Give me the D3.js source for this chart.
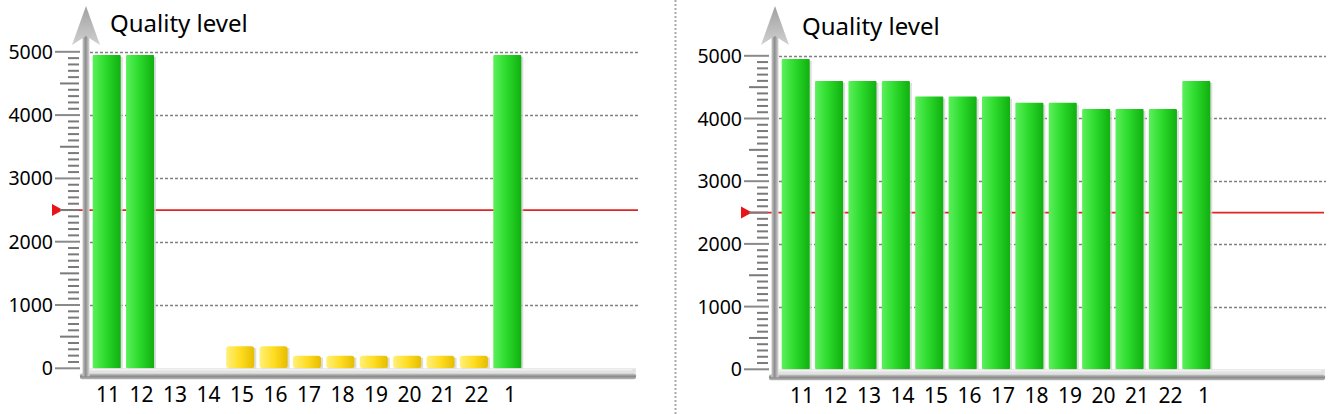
<!DOCTYPE html>
<html>
<head>
<meta charset="utf-8">
<script src="https://cdn.jsdelivr.net/npm/d3@7"></script>
<style>
    html, body { margin:0; padding:0; background:#fff; }
    svg { display:block; font-family:"Noto Sans", "Open Sans", sans-serif; }
</style>
</head>
<body>
<script>

    /*
        Chart data.
     */

    var categories = ["11","12","13","14","15","16","17","18","19","20","21","22","1"];
    var leftValues = [4950, 4950, 0, 0, 350, 350, 200, 200, 200, 200, 200, 200, 4950];
    var rightValues = [4950, 4600, 4600, 4600, 4350, 4350, 4350, 4250, 4250, 4150, 4150, 4150, 4600];
    var yTicks = [0, 1000, 2000, 3000, 4000, 5000];
    var threshold = 2500;
    var titleText = "Quality level";

    var width = 1332;
    var height = 414;

    var svg = d3.select("body")
        .append("svg")
        .attr("width", width)
        .attr("height", height);

    var defs = svg.append("defs");

    function gradient(id, stops, vertical) {
        var g = defs.append("linearGradient")
            .attr("id", id)
            .attr("x1", 0).attr("y1", 0)
            .attr("x2", vertical ? 0 : 1).attr("y2", vertical ? 1 : 0);
        stops.forEach(function (s) {
            g.append("stop").attr("offset", s[0]).attr("stop-color", s[1]);
        });
    }

    gradient("greenBar", [["0%","#5cf05c"],["45%","#2ddb2d"],["100%","#10b010"]], false);
    gradient("yellowBar", [["0%","#fff07a"],["50%","#ffdd22"],["100%","#e6bd00"]], false);
    gradient("shaft", [["0%","#c8c8c8"],["45%","#8c8c8c"],["100%","#d6d6d6"]], false);
    gradient("floorBar", [["0%","#cfcfcf"],["50%","#8a8a8a"],["100%","#b8b8b8"]], true);
    gradient("arrowHead", [["0%","#a0a0a0"],["100%","#d0d0d0"]], true);

    // separator between the two panels
    svg.append("line")
        .attr("x1", 675.5).attr("x2", 675.5)
        .attr("y1", 0).attr("y2", height)
        .attr("stroke", "#aaa")
        .attr("stroke-width", 2)
        .attr("stroke-dasharray", "2,2");

    var panels = [
        {values: leftValues, axisX: 86, yRange: [368.3, 51.8], xRange: [90, 524], labelRange: [108, 510], gridEnd: 640, floorEnd: 636, titleX: 110, titleY: 32},
        {values: rightValues, axisX: 775, yRange: [369.3, 55.8], xRange: [779, 1213], labelRange: [802, 1204], gridEnd: 1326, floorEnd: 1325, titleX: 802, titleY: 35}
    ];

    panels.forEach(function (p) {
        drawPanel(p);
    });

    function drawPanel(p) {

        var g = svg.append("g");
        var ax = p.axisX;

        var y = d3.scaleLinear()
            .domain([0, 5000])
            .range(p.yRange);

        var x = d3.scaleBand()
            .domain(categories)
            .range(p.xRange)
            .paddingInner(0.16)
            .paddingOuter(0.08);

        var xl = d3.scalePoint()
            .domain(categories)
            .range(p.labelRange);

        var y0 = y(0);

        // dashed grid lines
        g.selectAll(".grid")
            .data(yTicks.filter(function (d) { return d > 0; }))
            .enter()
            .append("line")
            .attr("class", "grid")
            .attr("x1", ax + 4).attr("x2", p.gridEnd)
            .attr("y1", function (d) { return Math.round(y(d)) + 0.5; })
            .attr("y2", function (d) { return Math.round(y(d)) + 0.5; })
            .attr("stroke", "#808080")
            .attr("stroke-width", 1.4)
            .attr("stroke-dasharray", "3,2");

        // threshold line + marker
        var ty = y(threshold);
        g.append("line")
            .attr("x1", ax - 26).attr("x2", p.gridEnd - 2)
            .attr("y1", ty).attr("y2", ty)
            .attr("stroke", "#e02424")
            .attr("stroke-width", 1.8);

        g.append("path")
            .attr("d", "M" + (ax - 34) + "," + (ty - 6) + "L" + (ax - 23) + "," + ty + "L" + (ax - 34) + "," + (ty + 6) + "Z")
            .attr("fill", "#e8141a");

        // bar shadows
        var bars = g.selectAll(".bar")
            .data(p.values.map(function (v, i) { return {cat: categories[i], value: v}; }).filter(function (d) { return d.value > 0; }))
            .enter();

        bars.append("rect")
            .attr("x", function (d) { return x(d.cat) + 2; })
            .attr("y", function (d) { return y(d.value) + 2; })
            .attr("width", x.bandwidth())
            .attr("height", function (d) { return y0 - y(d.value); })
            .attr("fill", "#d4d4d4")
            .attr("opacity", 0.8);

        bars.append("rect")
            .attr("class", "bar")
            .attr("x", function (d) { return x(d.cat); })
            .attr("y", function (d) { return y(d.value); })
            .attr("width", x.bandwidth())
            .attr("height", function (d) { return y0 - y(d.value); })
            .attr("rx", function (d) { return d.value < threshold ? 3 : 1; })
            .attr("fill", function (d) { return d.value >= threshold ? "url(#greenBar)" : "url(#yellowBar)"; });

        // floor and x axis bar
        g.append("rect")
            .attr("x", ax).attr("y", y0)
            .attr("width", p.floorEnd - ax).attr("height", 5)
            .attr("fill", "#e2e2e2");
        g.append("line")
            .attr("x1", ax + 3).attr("x2", p.floorEnd - 4)
            .attr("y1", y0 + 1.5).attr("y2", y0 + 1.5)
            .attr("stroke", "#fafafa")
            .attr("stroke-width", 1);
        g.append("rect")
            .attr("x", ax - 6).attr("y", y0 + 5)
            .attr("width", p.floorEnd - ax + 6).attr("height", 6)
            .attr("rx", 2)
            .attr("fill", "url(#floorBar)");

        // y axis shaft and arrow head
        g.append("rect")
            .attr("x", ax - 3.5).attr("y", 30)
            .attr("width", 7).attr("height", y0 + 8 - 30)
            .attr("fill", "url(#shaft)");

        g.append("path")
            .attr("d", "M" + ax + ",6L" + (ax + 14) + ",45L" + ax + ",36L" + (ax - 14) + ",45Z")
            .attr("fill", "url(#arrowHead)");

        // minor ticks every 100
        g.selectAll(".minor")
            .data(d3.range(0, 5001, 100).filter(function (d) { return d % 1000 !== 0; }))
            .enter()
            .append("line")
            .attr("x1", function (d) { return d % 500 === 0 ? ax - 26 : ax - 18; })
            .attr("x2", ax - 7)
            .attr("y1", function (d) { return y(d); })
            .attr("y2", function (d) { return y(d); })
            .attr("stroke", "#7a7a7a")
            .attr("stroke-width", 2);

        // major ticks and labels
        g.selectAll(".major")
            .data(yTicks)
            .enter()
            .append("line")
            .attr("x1", ax - 31).attr("x2", ax - 6)
            .attr("y1", function (d) { return y(d); })
            .attr("y2", function (d) { return y(d); })
            .attr("stroke", "#8a8a8a")
            .attr("stroke-width", 2);

        g.selectAll(".ylab")
            .data(yTicks)
            .enter()
            .append("text")
            .attr("x", ax - 33)
            .attr("y", function (d) { return y(d) + 7; })
            .attr("text-anchor", "end")
            .attr("font-size", 19.5)
            .attr("fill", "#000")
            .text(function (d) { return d; });

        // category labels
        g.selectAll(".xlab")
            .data(categories)
            .enter()
            .append("text")
            .attr("x", function (d) { return xl(d); })
            .attr("y", y0 + 34)
            .attr("text-anchor", "middle")
            .attr("font-size", 21)
            .attr("fill", "#000")
            .text(function (d) { return d; });

        g.append("text")
            .attr("x", p.titleX)
            .attr("y", p.titleY)
            .attr("font-size", 24)
            .attr("fill", "#000")
            .text(titleText);
    }

</script>
</body>
</html>
